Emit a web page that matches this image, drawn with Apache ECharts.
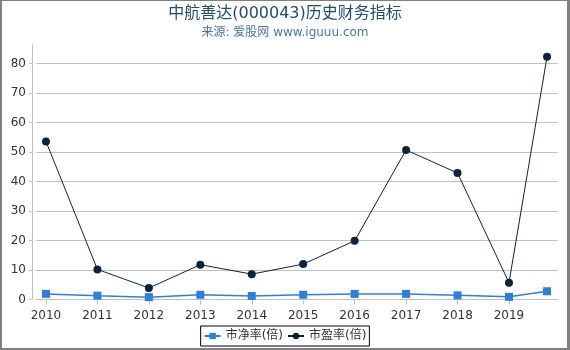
<!DOCTYPE html>
<html>
<head>
<meta charset="utf-8">
<script src="https://cdn.jsdelivr.net/npm/echarts@6/dist/echarts.min.js"></script>
<style>
  html, body { margin: 0; padding: 0; background: #fff; }
  #frame {
    width: 570px; height: 350px; box-sizing: border-box;
    border-style: solid; border-color: #808080;
    border-width: 1px 3px 2px 2px;
    position: relative; overflow: hidden;
  }
  #chart { position: absolute; left: -2px; top: -1px; width: 570px; height: 350px; }
</style>
</head>
<body>
<div id="frame"><div id="chart"></div></div>
<script>
// 年份（最后一个点是 2019 年中期数据）
var years = [2010, 2011, 2012, 2013, 2014, 2015, 2016, 2017, 2018, 2019, 2019.74];
var tickYears = [2010, 2011, 2012, 2013, 2014, 2015, 2016, 2017, 2018, 2019];

var pb = [1.9, 1.3, 0.8, 1.6, 1.2, 1.6, 1.9, 1.9, 1.4, 0.9, 2.8];          // 市净率(倍)
var pe = [53.6, 10.2, 3.9, 11.8, 8.6, 12.0, 19.9, 50.7, 42.9, 5.7, 82.3];  // 市盈率(倍)

function pairs(xs, ys) {
	var out = [];
	for (var i = 0; i < xs.length; i++) {
		out.push([xs[i], ys[i]]);
	}
	return out;
}

var myChart = echarts.init(document.getElementById('chart'));

var font = 'DejaVu Sans, Noto Sans CJK SC, sans-serif';

var option = {
	animation: false,
	textStyle: { fontFamily: font },
	title: {
		text: '中航善达(000043)历史财务指标',
		subtext: '来源: 爱股网 www.iguuu.com',
		left: 'center',
		top: 1,
		itemGap: 5,
		textStyle: { color: '#274b6d', fontSize: 16, fontWeight: 'normal', fontFamily: font },
		subtextStyle: { color: '#4d759e', fontSize: 12, fontFamily: font }
	},
	legend: {
		top: 326,
		left: 'center',
		borderColor: '#000',
		borderWidth: 1,
		borderRadius: 0,
		padding: [4, 3, 4, 3],
		itemWidth: 16,
		itemHeight: 8,
		itemGap: 4,
		textStyle: { color: '#333', fontSize: 12, fontFamily: font },
		data: ['市净率(倍)', '市盈率(倍)']
	},
	grid: { left: 36, right: 12, top: 45, bottom: 50.5 },
	xAxis: {
		type: 'value',
		min: 2009.806,
		max: 2019.953,
		offset: 4,
		splitLine: { show: false },
		axisLine: { lineStyle: { color: '#c0c0c0' } },
		axisTick: { customValues: tickYears, length: 5, lineStyle: { color: '#c0c0c0' } },
		axisLabel: {
			customValues: tickYears,
			color: '#333',
			fontSize: 12,
			margin: 6,
			formatter: function(v) { return String(Math.round(v)); }
		}
	},
	yAxis: {
		type: 'value',
		min: 0,
		max: 86.3,
		interval: 10,
		offset: 4,
		axisLine: { show: true, lineStyle: { color: '#c0c0c0' } },
		axisTick: { show: true, length: 3, lineStyle: { color: '#c0c0c0' } },
		axisLabel: { color: '#333', fontSize: 12, margin: 6, showMaxLabel: false },
		splitLine: { showMaxLine: false, lineStyle: { color: '#c0c0c0' } }
	},
	series: [{
		name: '市净率(倍)',
		type: 'line',
		symbol: 'rect',
		symbolSize: 8,
		itemStyle: { color: '#2f7ed8' },
		lineStyle: { color: '#2f7ed8', width: 1.5 },
		data: pairs(years, pb)
	}, {
		name: '市盈率(倍)',
		type: 'line',
		symbol: 'circle',
		symbolSize: 8,
		itemStyle: { color: '#0d233a' },
		lineStyle: { color: '#0d233a', width: 1 },
		data: pairs(years, pe)
	}]
};

myChart.setOption(option);
window.addEventListener("resize", function() {
	myChart.resize();
});
</script>
</body>
</html>
